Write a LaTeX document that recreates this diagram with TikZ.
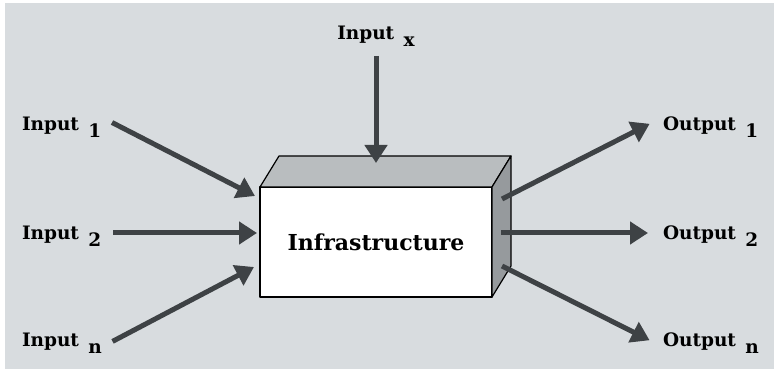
\documentclass[tikz,border=0pt]{standalone}
\usepackage{fontspec}
\setmainfont{DejaVu Serif}
\usetikzlibrary{arrows.meta}
\definecolor{panel}{RGB}{216,220,223}
\definecolor{topface}{RGB}{185,189,191}
\definecolor{sideface}{RGB}{150,154,157}
\definecolor{flowgray}{RGB}{62,66,69}
\newcommand{\lowidx}[1]{\hspace{3pt}\raisebox{-6.5pt}{#1}}
\begin{document}
\begin{tikzpicture}[x=1pt,y=1pt,
    lbl/.style={font=\fontsize{18.5}{22}\selectfont\bfseries, inner sep=0pt, outer sep=0pt, text height=14pt, text depth=0pt},
    flow/.style={draw=flowgray, line width=5pt, -{Triangle[length=18pt,width=22pt]}},
    face/.style={draw=black, line width=1.2pt, line join=round}]
    \useasboundingbox (0,0) rectangle (774,369);
    \fill[panel] (5,0) rectangle (774,366);
    \node[face, fill=white, minimum width=232pt, minimum height=110pt, inner sep=0pt, outer sep=0pt,
          font=\fontsize{22}{26}\selectfont\bfseries] (infra) at (376,127) {Infrastructure};
    \filldraw[face, fill=topface] (infra.north west) -- ++(19,31) -- ++(232,0) -- (infra.north east) -- cycle;
    \filldraw[face, fill=sideface] (infra.north east) -- ++(19,31) -- ++(0,-110) -- (infra.south east) -- cycle;
    \coordinate (in1 tip) at (255,173);
    \coordinate (in2 tip) at (257,136);
    \coordinate (inn tip) at (254,102);
    \coordinate (inx tip) at (376,206);
    \coordinate (out1 tail) at (502,170);
    \coordinate (out2 tail) at (501,136);
    \coordinate (outn tail) at (502,103);
    \node[lbl, anchor=base west] (in1) at (22,238) {Input \lowidx{1}};
    \node[lbl, anchor=base west] (in2) at (22,129) {Input \lowidx{2}};
    \node[lbl, anchor=base west] (inn) at (22,22) {Input \lowidx{n}};
    \node[lbl, anchor=base] (inx) at (376,329) {Input \lowidx{x}};
    \node[lbl, anchor=base west] (out1) at (663,238) {Output \lowidx{1}};
    \node[lbl, anchor=base west] (out2) at (663,129) {Output \lowidx{2}};
    \node[lbl, anchor=base west] (outn) at (663,22) {Output \lowidx{n}};
    \draw[flow, shorten <=12pt] (in1.north east) -- (in1 tip);
    \draw[flow, shorten <=12pt] (in2.east) -- (in2 tip);
    \draw[flow, shorten <=12pt] (inn.south east) -- (inn tip);
    \draw[flow, shorten <=16pt] (inx.south) -- (inx tip);
    \draw[flow, shorten >=15pt] (out1 tail) -- (out1.north west);
    \draw[flow, shorten >=15pt] (out2 tail) -- (out2.west);
    \draw[flow, shorten >=15pt] (outn tail) -- (outn.south west);
\end{tikzpicture}
\end{document}
